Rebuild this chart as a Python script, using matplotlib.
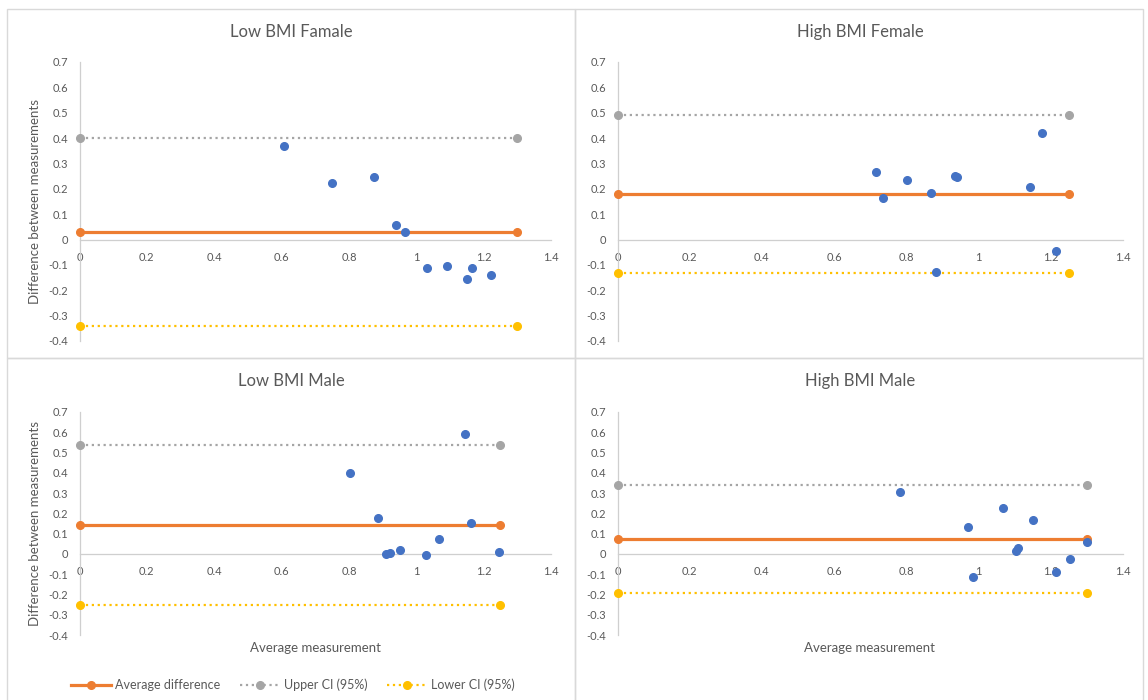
import matplotlib.pyplot as plt
from matplotlib.patches import Rectangle
from matplotlib.lines import Line2D

plt.rcParams['font.family'] = ['Lato', 'DejaVu Sans']

W, H = 1148, 700
TXT = '#595959'
AXC = '#CFCFCF'
BLUE, ORANGE, GREY, GOLD = '#4472C4', '#ED7D31', '#A5A5A5', '#FFC000'

titles = ['Low BMI Famale', 'High BMI Female', 'Low BMI Male', 'High BMI Male']

# average measurement (x) and difference between measurements (y)
lbf_x = [0.607, 0.750, 0.873, 0.939, 0.967, 1.032, 1.091, 1.150, 1.165, 1.221]
lbf_y = [0.370, 0.221, 0.247, 0.058, 0.028, -0.113, -0.103, -0.157, -0.111, -0.139]

hbf_x = [0.716, 0.735, 0.801, 0.869, 0.882, 0.934, 0.939, 1.142, 1.177, 1.215]
hbf_y = [0.267, 0.165, 0.235, 0.184, -0.129, 0.251, 0.248, 0.206, 0.420, -0.047]

lbm_x = [0.804, 0.886, 0.909, 0.923, 0.951, 1.029, 1.068, 1.145, 1.161, 1.246]
lbm_y = [0.400, 0.175, -0.002, 0.003, 0.018, -0.005, 0.075, 0.592, 0.154, 0.010]

hbm_x = [0.783, 0.970, 0.984, 1.069, 1.105, 1.109, 1.151, 1.214, 1.254, 1.301]
hbm_y = [0.305, 0.135, -0.113, 0.227, 0.015, 0.031, 0.166, -0.088, -0.024, 0.060]

mean_diff = [0.029, 0.181, 0.143, 0.075]
upper_ci = [0.401, 0.491, 0.538, 0.338]
lower_ci = [-0.339, -0.131, -0.254, -0.194]
line_end = [1.30, 1.25, 1.25, 1.30]

xs = [lbf_x, hbf_x, lbm_x, hbm_x]
ys = [lbf_y, hbf_y, lbm_y, hbm_y]


def px(l, t, r, b):
    return [l / W, 1 - b / H, (r - l) / W, (b - t) / H]


fig = plt.figure(figsize=(W / 100, H / 100), dpi=100)

# panel frames (chart boxes)
boxes = [(6.5, 8.5, 575, 358), (575, 8.5, 1143, 358),
         (6.5, 358, 575, 705), (575, 358, 1143, 705)]
for l, t, r, b in boxes:
    fig.add_artist(Rectangle((l / W, 1 - b / H), (r - l) / W, (b - t) / H,
                             transform=fig.transFigure, fill=False,
                             edgecolor='#D9D9D9', linewidth=1))

axes_pos = [(79.5, 62, 551, 341), (617.5, 62, 1123, 341),
            (79.5, 412, 551, 635), (617.5, 412, 1123, 635)]

for i in range(4):
    ax = fig.add_axes(px(*axes_pos[i]))
    ax.set_xlim(0, 1.4)
    ax.set_ylim(-0.4, 0.7)
    ax.set_xticks([0, 0.2, 0.4, 0.6, 0.8, 1.0, 1.2, 1.4])
    ax.set_xticklabels(['0', '0.2', '0.4', '0.6', '0.8', '1', '1.2', '1.4'])
    ax.set_yticks([-0.4, -0.3, -0.2, -0.1, 0, 0.1, 0.2, 0.3, 0.4, 0.5, 0.6, 0.7])
    ax.set_yticklabels(['-0.4', '-0.3', '-0.2', '-0.1', '0', '0.1', '0.2',
                        '0.3', '0.4', '0.5', '0.6', '0.7'])
    ax.spines['top'].set_visible(False)
    ax.spines['right'].set_visible(False)
    ax.spines['bottom'].set_position(('data', 0))
    for s in ['left', 'bottom']:
        ax.spines[s].set_color(AXC)
        ax.spines[s].set_linewidth(0.9)
    ax.tick_params(length=0, labelsize=8, labelcolor=TXT)
    ax.tick_params(axis='y', pad=8)
    ax.tick_params(axis='x', pad=9)
    ax.patch.set_alpha(0)

    e = line_end[i]
    ax.plot([0, e], [mean_diff[i]] * 2, color=ORANGE, lw=2.3, marker='o',
            ms=5.5, clip_on=False, zorder=3)
    ax.plot([0, e], [upper_ci[i]] * 2, color=GREY, lw=1.6, ls=':', marker='o',
            ms=5.5, clip_on=False, zorder=3)
    ax.plot([0, e], [lower_ci[i]] * 2, color=GOLD, lw=1.6, ls=':', marker='o',
            ms=5.5, clip_on=False, zorder=3)
    ax.plot(xs[i], ys[i], 'o', color=BLUE, ms=5.5, clip_on=False, zorder=4)

# titles and axis labels
title_pos = [(291, 32), (860, 32), (291, 381), (860, 381)]
for (x, y), t in zip(title_pos, titles):
    fig.text(x / W, 1 - y / H, t, ha='center', va='center', fontsize=12, color=TXT)

for y in [202, 523]:
    fig.text(35 / W, 1 - y / H, 'Difference between measurements', rotation=90,
             ha='center', va='center', fontsize=9.5, color=TXT)
for x in [315, 870]:
    fig.text(x / W, 1 - 648 / H, 'Average measurement', ha='center', va='center',
             fontsize=9.5, color=TXT)

handles = [Line2D([], [], color=ORANGE, lw=2.3, marker='o', ms=5.5),
           Line2D([], [], color=GREY, lw=1.6, ls=':', marker='o', ms=5.5),
           Line2D([], [], color=GOLD, lw=1.6, ls=':', marker='o', ms=5.5)]
fig.legend(handles, ['Average difference', 'Upper CI (95%)', 'Lower CI (95%)'],
           loc='center', bbox_to_anchor=(293 / W, 1 - 685 / H), ncol=3,
           frameon=False, fontsize=9, labelcolor=TXT, numpoints=1,
           handlelength=3.2, handletextpad=0.3, columnspacing=1.6)

fig.savefig('out.png', dpi=100)
